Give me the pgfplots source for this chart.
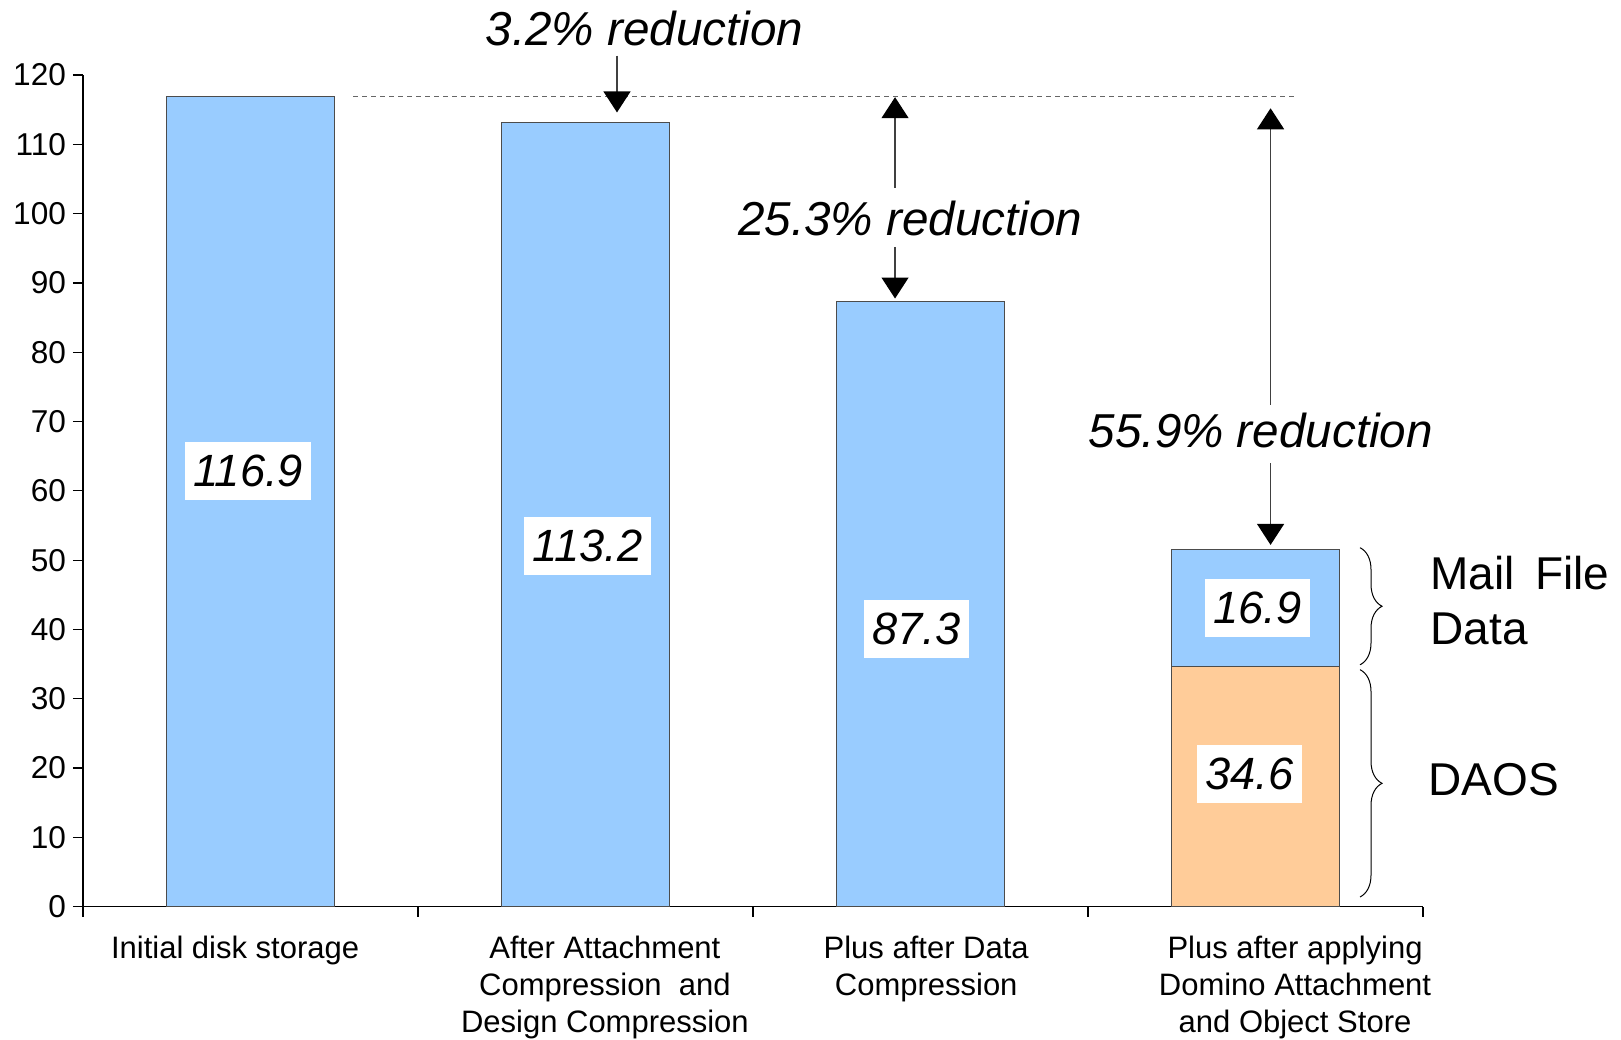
\documentclass[border=0pt]{standalone}
\usepackage{pgfplots}
\pgfplotsset{compat=1.18}
\usepackage{fontspec}
\setmainfont{Liberation Sans}
\usetikzlibrary{arrows.meta,decorations.pathreplacing}
\definecolor{barblue}{HTML}{99CCFF}
\definecolor{barorange}{HTML}{FFCC99}
\tikzset{
  redarrow/.style={draw=black!75, line width=0.6pt, -{Triangle[width=13.5pt,length=10.5pt,color=black]}},
  redtext/.style={anchor=base, inner sep=0pt, font=\fontsize{23.8pt}{28pt}\selectfont\itshape},
  vlabel/.style={fill=white, inner xsep=4.3pt, inner ysep=0pt, minimum height=29pt, font=\fontsize{22.6pt}{26pt}\selectfont\itshape},
  sidelabel/.style={anchor=base west, inner sep=0pt, font=\fontsize{23pt}{27pt}\selectfont},
  catlabel/.style={anchor=north, align=center, inner sep=0pt, yshift=-14.6pt, font=\fontsize{15.5pt}{18.35pt}\selectfont},
}
\begin{document}
\begin{tikzpicture}
\begin{axis}[
  scale only axis, width=670pt, height=415.85pt,
  xmin=-0.5, xmax=3.5, ymin=0, ymax=120, enlargelimits=false,
  axis lines=left, axis line style={-, black, line width=0.6pt},
  xtick={-0.5,0.5,1.5,2.5,3.5}, xticklabels={},
  ytick={0,10,...,120},
  tick align=outside, major tick length=5pt,
  tick style={black, line width=0.6pt},
  yticklabel style={font=\fontsize{15.8pt}{18pt}\selectfont},
  /pgf/number format/assume math mode=true,
  ybar, bar width=0.5, bar shift=0pt,
  clip=false,
]
\addplot[fill=barblue, draw=black!70, line width=0.6pt] coordinates {(0,116.9) (1,113.2) (2,87.3) (3,51.5)};
\addplot[fill=barorange, draw=black!70, line width=0.6pt] coordinates {(3,34.6)};

\coordinate (BL) at (rel axis cs:0,0);
\coordinate (TR) at (rel axis cs:1,1);

\draw[black!60, line width=0.5pt, dash pattern=on 2.5pt off 2pt] (axis cs:0.306,116.9) -- (axis cs:3.124,116.9);

\draw[redarrow] (axis cs:1.094,122.8) -- (axis cs:1.094,114.6);
\draw[redarrow] (axis cs:1.924,103.7) -- (axis cs:1.924,116.8);
\draw[redarrow] (axis cs:1.924,95.2) -- (axis cs:1.924,87.75);
\draw[redarrow] (axis cs:3.045,72.4) -- (axis cs:3.045,115.2);
\draw[redarrow] (axis cs:3.045,64.0) -- (axis cs:3.045,52.2);

\node[redtext] at (axis cs:1.176,124.3) {3.2\% reduction};
\node[redtext] at (axis cs:1.969,96.9) {25.3\% reduction};
\node[redtext] at (axis cs:3.016,66.2) {55.9\% reduction};

\node[vlabel] at (axis cs:-0.0075,62.9) {116.9};
\node[vlabel] at (axis cs:1.006,52.05) {113.2};
\node[vlabel] at (axis cs:1.988,40.1) {87.3};
\node[vlabel] at (axis cs:3.005,43.1) {16.9};
\node[vlabel] at (axis cs:2.982,19.15) {34.6};

\draw[decorate, decoration={brace, amplitude=11pt}, line width=0.5pt] (axis cs:3.312,51.8) -- (axis cs:3.312,34.9);
\draw[decorate, decoration={brace, amplitude=11pt}, line width=0.5pt] (axis cs:3.312,34.2) -- (axis cs:3.312,1.4);

\node[sidelabel] at (axis cs:3.521,45.8) {Mail\hspace{0.45em}File};
\node[sidelabel] at (axis cs:3.521,37.8) {Data};
\node[sidelabel] at (axis cs:3.516,16.1) {DAOS};

\node[catlabel] at (axis cs:-0.046,0) {Initial disk storage};
\node[catlabel] at (axis cs:1.058,0) {After Attachment\\Compression~~and\\Design Compression};
\node[catlabel] at (axis cs:2.017,0) {Plus after Data\\Compression};
\node[catlabel] at (axis cs:3.118,0) {Plus after applying\\Domino Attachment\\and Object Store};
\end{axis}
\pgfresetboundingbox
\path[use as bounding box] ([shift={(-41.5pt,-66.15pt)}]BL) rectangle ([shift={(99pt,37.5pt)}]TR);
\end{tikzpicture}
\end{document}
